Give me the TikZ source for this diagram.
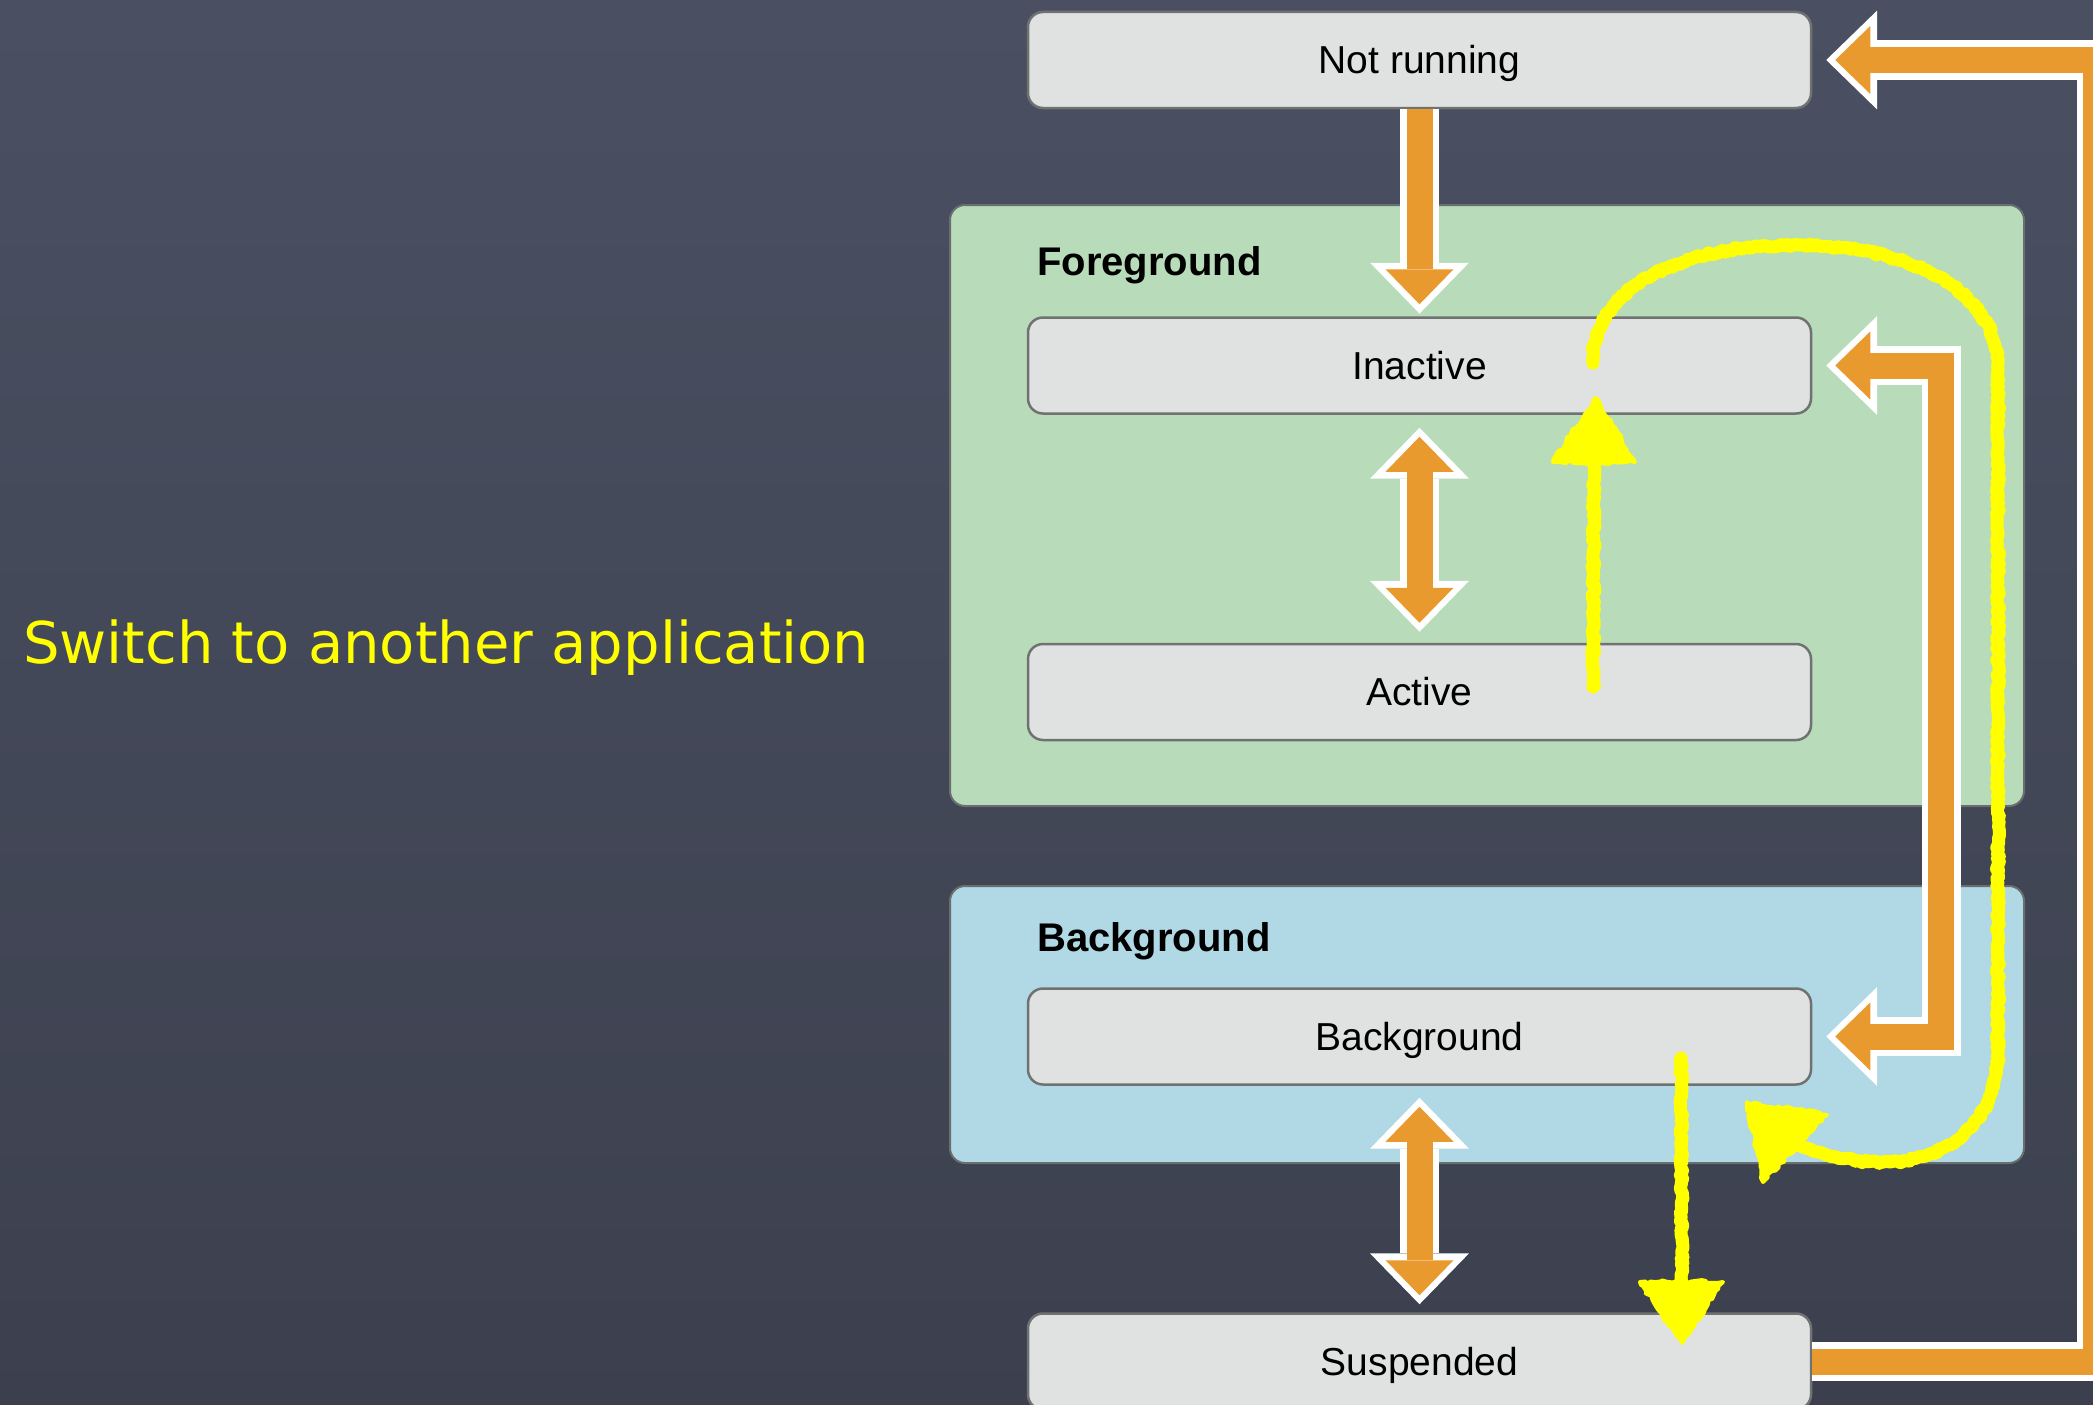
\documentclass[tikz,border=0pt]{standalone}
\usepackage{fontspec}
\setmainfont{Liberation Sans}
\newfontfamily\chalkfont{DejaVu Sans}
\usetikzlibrary{arrows.meta,calc,decorations.pathmorphing}

\definecolor{boardtop}{RGB}{74,80,98}
\definecolor{boardbot}{RGB}{60,64,78}
\definecolor{fggreen}{RGB}{184,220,186}
\definecolor{bgblue}{RGB}{176,216,229}
\definecolor{boxfill}{RGB}{224,226,225}
\definecolor{boxline}{RGB}{112,114,114}
\definecolor{regline}{RGB}{105,110,112}
\definecolor{flow}{RGB}{233,154,46}
\definecolor{chalk}{RGB}{255,255,0}

\tikzset{
  region/.style={draw=regline, line width=2pt, rounded corners=15pt,
    minimum width=1074pt, inner sep=0pt},
  statebox/.style={draw=boxline, line width=2.5pt, fill=boxfill, rounded corners=15pt,
    minimum width=783pt, minimum height=96pt, inner sep=0pt,
    text height=27.9pt, text depth=0pt, font=\fontsize{39}{47}\selectfont},
  grouplabel/.style={anchor=base west, inner sep=0pt, font=\bfseries\fontsize{40}{48}\selectfont},
  % block arrows: white rim underneath, orange body on top
  rim/.style={draw=white, line width=39pt, line join=miter},
  body/.style={draw=flow, line width=26pt, line join=miter},
  rimtip/.tip={Triangle[length=50.8pt, width=98.8pt, line width=0pt]},
  bodytip/.tip={Triangle[length=35pt, width=68pt, line width=0pt]},
  chalkline/.style={draw=chalk, line width=13pt, line cap=round, line join=round,
    decorate, decoration={random steps, segment length=3pt, amplitude=1.5pt}},
  chalkhead/.style={fill=chalk, draw=chalk, line width=4pt, line join=round,
    decorate, decoration={random steps, segment length=4pt, amplitude=2pt}}
}

\begin{document}
\begin{tikzpicture}[x=1pt, y=-1pt]
  % chalkboard
  \shade[top color=boardtop, bottom color=boardbot] (0,0) rectangle (2093,1405);
  \useasboundingbox (0,0) rectangle (2093,1405);

  % state groups
  \node[region, fill=fggreen, minimum height=601pt] (fg) at (1487,505.5) {};
  \node[region, fill=bgblue, minimum height=277pt] (bgr) at (1487,1024.5) {};
  \node[grouplabel] (fgl) at (1037,275) {Foreground};
  \node[grouplabel] (bgl) at (1037,951) {Background};

  % states
  \node[statebox] (nr)  at (1419.5,60)     {Not running};
  \node[statebox] (ina) at (1419.5,365.5)  {Inactive};
  \node[statebox] (act) at (1419.5,692)    {Active};
  \node[statebox] (bgb) at (1419.5,1036.5) {Background};
  \node[statebox] (sus) at (1419.5,1361.5) {Suspended};

  % rails of the elbow connectors
  \coordinate (railA) at (1941,0);
  \coordinate (railB) at (2096,0);

  % Not running -> Inactive
  \draw[rim, -rimtip, shorten >=2.7pt] (nr.south) -- (ina.north);
  \draw[body, -bodytip, shorten >=12pt] (nr.south) -- (ina.north);

  % Inactive <-> Active
  \draw[rim, rimtip-rimtip, shorten <=13pt, shorten >=11pt] (ina.south) -- (act.north);
  \draw[body, bodytip-bodytip, shorten <=22pt, shorten >=20pt] (ina.south) -- (act.north);

  % Background <-> Suspended
  \draw[rim, rimtip-rimtip, shorten <=12pt, shorten >=8pt] (bgb.south) -- (sus.north);
  \draw[body, bodytip-bodytip, shorten <=21pt, shorten >=17pt] (bgb.south) -- (sus.north);

  % Inactive <-> Background
  \draw[rim, rimtip-rimtip, shorten <=14pt, shorten >=14pt]
    (ina.east) -- (ina.east -| railA) -- (bgb.east -| railA) -- (bgb.east);
  \draw[body, bodytip-bodytip, shorten <=23pt, shorten >=23pt]
    (ina.east) -- (ina.east -| railA) -- (bgb.east -| railA) -- (bgb.east);

  % Suspended -> Not running
  \draw[rim, -rimtip, shorten >=14pt]
    (sus.east) -- (sus.east -| railB) -- (nr.east -| railB) -- (nr.east);
  \draw[body, -bodytip, shorten >=23pt]
    (sus.east) -- (sus.east -| railB) -- (nr.east -| railB) -- (nr.east);

  % chalk strokes
  \coordinate (upfoot) at (1593,687);
  \coordinate (upneck) at (1594,462);
  \coordinate (loopstart) at (1593,363);
  \coordinate (loopend) at (1795,1145);
  \coordinate (downtop) at (1681,1058);
  \coordinate (downneck) at (1682,1282);

  \draw[chalkline] (upfoot) -- (upneck);
  \filldraw[chalkhead] (1553,462) -- (1635,462) -- (1595,398) -- cycle;

  \draw[chalkline] (loopstart)
    .. controls (1590,290) and (1680,245) .. (1793,245)
    .. controls (1910,245) and (1998,290) .. (1998,370)
    -- (1998,1050)
    .. controls (1998,1120) and (1950,1160) .. (1890,1162)
    .. controls (1845,1163) and (1815,1152) .. (loopend);
  \filldraw[chalkhead] (1747,1102) -- (1827,1115) -- (1763,1182) -- cycle;

  \draw[chalkline] (downtop) -- (downneck);
  \filldraw[chalkhead] (1640,1282) -- (1723,1282) -- (1682,1343) -- cycle;

  \node[anchor=base west, inner sep=0pt, text=chalk,
        font=\chalkfont\fontsize{57.6}{69}\selectfont] (note) at (23,663)
    {Switch to another application};
\end{tikzpicture}
\end{document}
